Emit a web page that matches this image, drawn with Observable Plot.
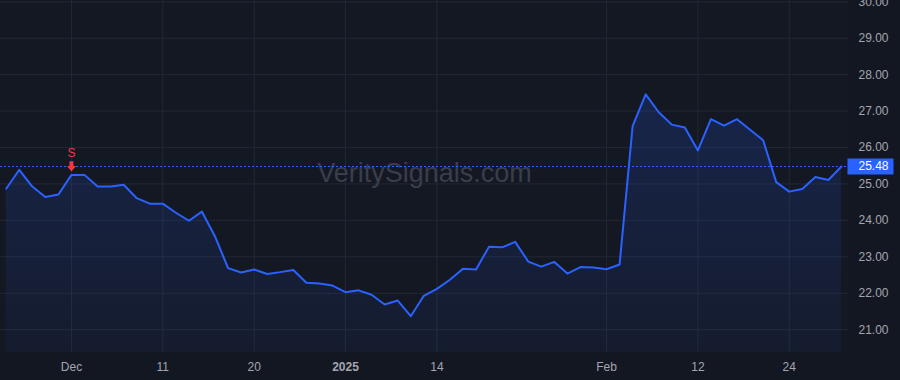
<!DOCTYPE html>
<html>
<head>
<meta charset="utf-8">
<script src="https://cdn.jsdelivr.net/npm/d3@7"></script>
<script src="https://cdn.jsdelivr.net/npm/@observablehq/plot@0.6"></script>
<style>
  html, body { margin: 0; padding: 0; background: #131722; overflow: hidden; }
  #chart { width: 900px; height: 380px; }
</style>
</head>
<body>
<div id="chart"></div>
<script>
// ---- data (trading days) ----
const dates = [
  "2024-11-22","2024-11-25","2024-11-26","2024-11-27","2024-11-29",
  "2024-12-02","2024-12-03","2024-12-04","2024-12-05","2024-12-06",
  "2024-12-09","2024-12-10","2024-12-11","2024-12-12","2024-12-13",
  "2024-12-16","2024-12-17","2024-12-18","2024-12-19","2024-12-20",
  "2024-12-23","2024-12-24","2024-12-26","2024-12-27","2024-12-30","2024-12-31",
  "2025-01-02","2025-01-03","2025-01-06","2025-01-07","2025-01-08","2025-01-10",
  "2025-01-13","2025-01-14","2025-01-15","2025-01-16","2025-01-17",
  "2025-01-21","2025-01-22","2025-01-23","2025-01-24",
  "2025-01-27","2025-01-28","2025-01-29","2025-01-30","2025-01-31",
  "2025-02-03","2025-02-04","2025-02-05","2025-02-06","2025-02-07",
  "2025-02-10","2025-02-11","2025-02-12","2025-02-13","2025-02-14",
  "2025-02-18","2025-02-19","2025-02-20","2025-02-21",
  "2025-02-24","2025-02-25","2025-02-26","2025-02-27","2025-02-28"
];
const closes = [
  24.87, 25.39, 24.93, 24.64, 24.71,
  25.25, 25.25, 24.93, 24.93, 24.98,
  24.61, 24.46, 24.46, 24.21, 23.99,
  24.24, 23.56, 22.69, 22.57, 22.65,
  22.53, 22.58, 22.64, 22.29, 22.27, 22.21,
  22.03, 22.08, 21.96, 21.69, 21.80, 21.37,
  21.93, 22.12, 22.37, 22.67, 22.65,
  23.28, 23.26, 23.41, 22.87,
  22.73, 22.86, 22.54, 22.72, 22.71,
  22.66, 22.79, 26.59, 27.46, 26.97,
  26.63, 26.55, 25.92, 26.78, 26.60,
  26.78, 26.49, 26.20, 25.05,
  24.79, 24.86, 25.19, 25.11, 25.48
];
const tickDates  = ["2024-12-02","2024-12-11","2024-12-20","2025-01-02","2025-01-14","2025-02-03","2025-02-12","2025-02-24"];
const tickLabels = ["Dec","11","20","2025","14","Feb","12","24"];
const yTicks = [21, 22, 23, 24, 25, 26, 27, 28, 29, 30];
const signalDates  = ["2024-12-02"];
const signalLabels = ["S"];
const watermark = "VeritySignals.com";

// ---- derived tables ----
const data = dates.map((d, i) => ({i, date: d, close: closes[i]}));
const tickIdx = tickDates.map(d => dates.indexOf(d));
const signals = signalDates.map((d, k) => {
  const i = dates.indexOf(d);
  return {i, close: closes[i], label: signalLabels[k]};
});
const last = closes[closes.length - 1];

const yDomain = [20.373, 30.038];
const xDomain = [-0.437, 64.54];

const arrowSymbol = {
  draw(ctx) {
    ctx.moveTo(-2, -4.7); ctx.lineTo(2, -4.7); ctx.lineTo(2, 0.3); ctx.lineTo(-2, 0.3); ctx.closePath();
    ctx.moveTo(-4.5, 0); ctx.lineTo(4.5, 0); ctx.lineTo(0, 5.5); ctx.closePath();
  }
};
const boxSymbol = {
  draw(ctx) { ctx.rect(-23, -8, 46, 16); }
};

const gridColor = "#232834";
const textColor = "#a3a6af";
const blue = "#2962ff";

const svg = Plot.plot({
  width: 900,
  height: 380,
  marginTop: 0,
  marginBottom: 28,
  marginLeft: 0,
  marginRight: 52,
  style: {background: "transparent", color: textColor, fontFamily: "'Liberation Sans', Arial, sans-serif", fontSize: "12px", overflow: "visible"},
  x: {type: "linear", domain: xDomain, label: null},
  y: {type: "linear", domain: yDomain, label: null},
  marks: [
    Plot.frame({fill: "#141823", stroke: null}),
    Plot.gridX(tickIdx, {stroke: gridColor, strokeOpacity: 1}),
    Plot.gridY(yTicks, {stroke: gridColor, strokeOpacity: 1}),
    Plot.text([watermark], {frameAnchor: "middle", text: d => d, fontSize: 27, fill: "#3a3e4a", dy: -3}),
    Plot.areaY(data, {x: "i", y1: yDomain[0], y2: "close", fill: "url(#areaGrad)"}),
    Plot.lineY(data, {x: "i", y: "close", stroke: blue, strokeWidth: 2}),
    Plot.ruleY([last], {stroke: blue, strokeWidth: 1, strokeDasharray: "2,2"}),
    Plot.text(signals, {x: "i", y: "close", text: "label", dy: -22, fill: "#f23645", fontSize: 12}),
    Plot.dot(signals, {x: "i", y: "close", dy: -9, symbol: arrowSymbol, fill: "#f23645", stroke: "none"}),
    Plot.axisX(tickIdx, {label: null, tickFormat: i => tickLabels[tickIdx.indexOf(i)], tickSize: 0, tickPadding: 10, fill: textColor}),
    Plot.axisY(yTicks, {label: null, anchor: "right", tickFormat: d => d.toFixed(2), tickSize: 0, tickPadding: 10, fill: textColor}),
    Plot.dot([last], {y: d => d, frameAnchor: "right", dx: 22, symbol: boxSymbol, fill: blue, stroke: "none"}),
    Plot.text([last], {y: d => d, frameAnchor: "right", dx: 10, textAnchor: "start", text: d => d.toFixed(2), fill: "#ffffff", fontSize: 12})
  ]
});

// gradient for the area fill
const s = d3.select(svg);
const defs = s.insert("defs", ":first-child");
const g = defs.append("linearGradient").attr("id", "areaGrad").attr("x1", 0).attr("y1", 0).attr("x2", 0).attr("y2", 1);
g.append("stop").attr("offset", "0%").attr("stop-color", blue).attr("stop-opacity", 0.18);
g.append("stop").attr("offset", "100%").attr("stop-color", blue).attr("stop-opacity", 0.05);

// bold year label
s.selectAll("text").filter(function() { return this.textContent === "2025"; }).attr("font-weight", "bold");

document.getElementById("chart").appendChild(svg);
</script>
</body>
</html>
